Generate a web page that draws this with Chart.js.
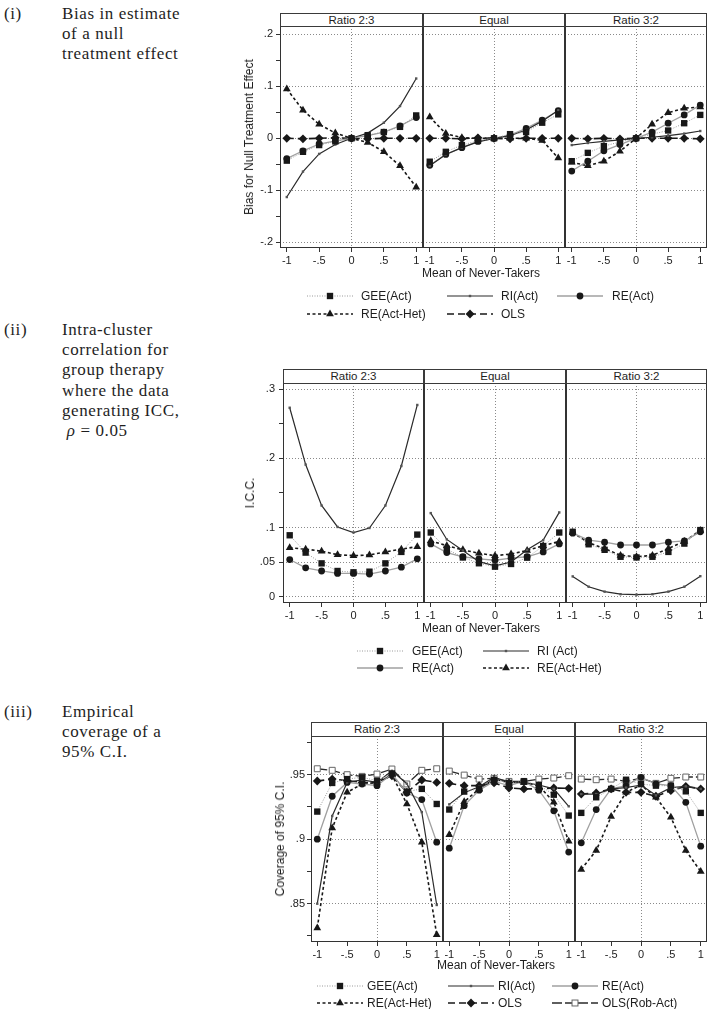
<!DOCTYPE html>
<html>
<head>
<meta charset="utf-8">
<script src="https://cdn.jsdelivr.net/npm/chart.js@4/dist/chart.umd.min.js"></script>
<style>
  body { margin: 0; background: #fff; width: 709px; height: 1009px; position: relative; overflow: hidden;
         font-family: 'Liberation Sans', Arial, sans-serif; color: #1e1e1e; }
  canvas { position: absolute; }
  .strip { position: absolute; box-sizing: border-box; border: 1px solid #3a3a3a; font-size: 11.5px;
           text-align: center; background: #fff; color: #1e1e1e; }
  .caption { position: absolute; font-family: 'Liberation Serif', serif; font-size: 17px; line-height: 20.2px;
             color: #1e1e1e; letter-spacing: 0.6px; white-space: nowrap; }
  .ytitle { position: absolute; font-size: 12px; white-space: nowrap; transform: translate(-50%, -50%) rotate(-90deg); }
  .xtitle { position: absolute; font-size: 12px; white-space: nowrap; transform: translate(-50%, -50%); }
  .legtext { position: absolute; font-size: 12px; white-space: nowrap; transform: translateY(-50%); }
  .legsample { position: absolute; transform: translateY(-50%); }
</style>
</head>
<body>
<div class="caption" style="left:4px;top:4px">(i)</div>
<div class="caption" style="left:62px;top:4px">Bias in estimate<br>of a null<br>treatment effect</div>
<div class="caption" style="left:4px;top:320px">(ii)</div>
<div class="caption" style="left:62px;top:320px">Intra-cluster<br>correlation for<br>group therapy<br>where the data<br>generating ICC,<br>&nbsp;<i>ρ</i> = 0.05</div>
<div class="caption" style="left:4px;top:702px">(iii)</div>
<div class="caption" style="left:62px;top:702px">Empirical<br>coverage of a<br>95% C.I.</div>
<script>
// x values: mean of never-takers
const neverTakerMeans = [-1, -0.75, -0.5, -0.25, 0, 0.25, 0.5, 0.75, 1];
const facetLabels = ['Ratio 2:3', 'Equal', 'Ratio 3:2'];
const xTickValues = [-1, -0.5, 0, 0.5, 1];

// (i) bias, one row per facet (2:3, equal, 3:2)
const biasGEE = [
  [-0.043, -0.026, -0.013, -0.006, 0, 0.006, 0.012, 0.022, 0.044],
  [-0.045, -0.026, -0.013, -0.005, 0, 0.008, 0.012, 0.030, 0.046],
  [-0.044, -0.028, -0.015, -0.007, 0, 0.008, 0.015, 0.029, 0.045]];
const biasRI = [
  [-0.113, -0.064, -0.030, -0.012, 0, 0.010, 0.030, 0.062, 0.115],
  [-0.053, -0.031, -0.018, -0.007, 0, 0.005, 0.016, 0.033, 0.054],
  [-0.013, -0.009, -0.006, -0.003, 0, 0.002, 0.005, 0.009, 0.014]];
const biasRE = [
  [-0.039, -0.024, -0.011, -0.005, 0, 0.005, 0.012, 0.024, 0.040],
  [-0.052, -0.031, -0.018, -0.006, 0, 0.006, 0.019, 0.035, 0.053],
  [-0.063, -0.044, -0.024, -0.012, 0, 0.012, 0.029, 0.045, 0.064]];
const biasHet = [
  [0.095, 0.054, 0.027, 0.010, 0, -0.008, -0.026, -0.053, -0.094],
  [0.041, 0.009, 0.001, 0.000, 0, 0.000, 0.000, -0.004, -0.038],
  [-0.046, -0.053, -0.044, -0.025, 0, 0.027, 0.049, 0.058, 0.060]];
const biasOLS = [
  [0.000, -0.001, 0.000, 0.001, 0, -0.001, 0.000, 0.000, 0.000],
  [0.000, 0.000, -0.001, 0.001, 0, -0.001, 0.000, 0.000, 0.000],
  [0.000, -0.001, 0.000, -0.001, 0, 0.000, 0.000, 0.000, -0.001]];
const biasYTicks = [-0.2, -0.15, -0.1, -0.05, 0, 0.05, 0.1, 0.15, 0.2];
const biasYLabels = [-0.2, -0.1, 0, 0.1, 0.2];

// (ii) intra-cluster correlation
const iccGEE = [
  [0.089, 0.064, 0.0485, 0.0375, 0.0356, 0.0365, 0.0485, 0.065, 0.090],
  [0.093, 0.069, 0.057, 0.0486, 0.0437, 0.0476, 0.0567, 0.0735, 0.093],
  [0.094, 0.076, 0.068, 0.058, 0.057, 0.058, 0.065, 0.077, 0.0965]];
const iccRI = [
  [0.273, 0.191, 0.132, 0.101, 0.093, 0.0995, 0.132, 0.189, 0.277],
  [0.121, 0.083, 0.067, 0.051, 0.045, 0.0505, 0.068, 0.082, 0.122],
  [0.0297, 0.0148, 0.0077, 0.004, 0.0034, 0.004, 0.0077, 0.0148, 0.030]];
const iccRE = [
  [0.054, 0.042, 0.0375, 0.034, 0.034, 0.033, 0.0375, 0.043, 0.055],
  [0.0765, 0.064, 0.058, 0.055, 0.053, 0.056, 0.058, 0.065, 0.0765],
  [0.092, 0.082, 0.079, 0.075, 0.075, 0.075, 0.079, 0.081, 0.094]];
const iccHet = [
  [0.071, 0.069, 0.066, 0.061, 0.0596, 0.0606, 0.065, 0.069, 0.0726],
  [0.081, 0.074, 0.068, 0.063, 0.0596, 0.062, 0.067, 0.074, 0.080],
  [0.093, 0.078, 0.070, 0.060, 0.058, 0.060, 0.070, 0.080, 0.096]];
const iccYTicks = [0, 0.05, 0.1, 0.15, 0.2, 0.25, 0.3];
const iccYLabels = [0, 0.05, 0.1, 0.2, 0.3];

// (iii) coverage of 95% C.I.
const covGEE = [
  [0.9214, 0.9436, 0.9466, 0.948, 0.9454, 0.951, 0.9369, 0.939, 0.9273],
  [0.923, 0.9369, 0.939, 0.9459, 0.9436, 0.9448, 0.942, 0.9345, 0.9183],
  [0.9204, 0.9325, 0.939, 0.9461, 0.9428, 0.9415, 0.9415, 0.9371, 0.9204]];
const covRI = [
  [0.850, 0.918, 0.944, 0.946, 0.944, 0.953, 0.943, 0.921, 0.849],
  [0.927, 0.936, 0.9407, 0.948, 0.944, 0.944, 0.942, 0.939, 0.9255],
  [0.935, 0.935, 0.939, 0.940, 0.942, 0.934, 0.940, 0.941, 0.939]];
const covRE = [
  [0.900, 0.9333, 0.944, 0.9428, 0.9415, 0.9505, 0.9358, 0.9307, 0.8977],
  [0.893, 0.926, 0.938, 0.9448, 0.9415, 0.9448, 0.938, 0.922, 0.890],
  [0.8972, 0.923, 0.939, 0.9415, 0.948, 0.9428, 0.9415, 0.9286, 0.8946]];
const covHet = [
  [0.8312, 0.9086, 0.9363, 0.9428, 0.944, 0.9497, 0.9273, 0.8977, 0.826],
  [0.9034, 0.929, 0.939, 0.9466, 0.944, 0.944, 0.9415, 0.9286, 0.8985],
  [0.8766, 0.8912, 0.9175, 0.9363, 0.942, 0.9325, 0.917, 0.8912, 0.875]];
const covOLS = [
  [0.9451, 0.9466, 0.9454, 0.944, 0.944, 0.9492, 0.9363, 0.9459, 0.944],
  [0.9433, 0.9415, 0.9415, 0.9436, 0.9397, 0.939, 0.939, 0.9397, 0.9394],
  [0.935, 0.9358, 0.939, 0.9363, 0.9363, 0.9333, 0.9376, 0.941, 0.939]];
const covRob = [
  [0.9546, 0.9534, 0.950, 0.9487, 0.9505, 0.9544, 0.9428, 0.9534, 0.9546],
  [0.9528, 0.9497, 0.9466, 0.9472, 0.9448, 0.9448, 0.9466, 0.9474, 0.9492],
  [0.9466, 0.9461, 0.9466, 0.9448, 0.9474, 0.9433, 0.9472, 0.9482, 0.9482]];
const covYTicks = [0.825, 0.85, 0.875, 0.9, 0.925, 0.95, 0.975];
const covYLabels = [0.85, 0.9, 0.95];

Chart.defaults.font.family = "'Liberation Sans', Arial, sans-serif";
Chart.defaults.font.size = 11;
Chart.defaults.color = '#222';

const fmt = v => {
  if (Math.abs(v) < 1e-9) return '0';
  return String(+v.toFixed(3)).replace(/^(-?)0\./, '$1.');
};
const near = (v, list) => list.some(t => Math.abs(t - v) < 1e-9);

const STYLE = {
  gee: { line: '#9a9a9a', width: 1, dash: [1, 1.5], point: 'rect', r: 4.5, fill: '#181818' },
  ri: { line: '#2a2a2a', width: 1.2, dash: [], point: 'rect', r: 1.7, fill: '#555' },
  re: { line: '#a0a0a0', width: 1.3, dash: [], point: 'circle', r: 3.4, fill: '#181818' },
  het: { line: '#181818', width: 1.6, dash: [3, 2.5], point: 'triangle', r: 4.5, fill: '#181818' },
  ols: { line: '#181818', width: 1.6, dash: [7, 4], point: 'rectRot', r: 4.4, fill: '#181818' },
  rob: { line: '#2a2a2a', width: 1.3, dash: [10, 3], point: 'rect', r: 4.2, fill: '#fff', border: '#666', bw: 1 }
};

const panels = [
  { stripTop: 13, plotTop: 26, plotBottom: 248, frames: [280, 423, 565, 707], yPad: 3,
    yMin: -0.211, yMax: 0.216, yTicks: biasYTicks, yLabels: biasYLabels,
    yTitle: 'Bias for Null Treatment Effect', yTitleX: 249, xTitleX: 481, xTitleY: 273,
    series: [['gee', biasGEE], ['ri', biasRI], ['re', biasRE], ['het', biasHet], ['ols', biasOLS]],
    rows: [296, 313.5],
    legend: [['gee', 'GEE(Act)', 307, 361, 0], ['ri', 'RI(Act)', 447, 501, 0], ['re', 'RE(Act)', 557, 612, 0],
             ['het', 'RE(Act-Het)', 307, 361, 1], ['ols', 'OLS', 447, 501, 1]] },
  { stripTop: 369, plotTop: 383, plotBottom: 603, frames: [283, 424, 566, 707], yPad: 4,
    yMin: -0.0087, yMax: 0.3087, yTicks: iccYTicks, yLabels: iccYLabels,
    yTitle: 'I.C.C.', yTitleX: 250, xTitleX: 481, xTitleY: 628,
    series: [['gee', iccGEE], ['ri', iccRI], ['re', iccRE], ['het', iccHet]],
    rows: [651, 668],
    legend: [['gee', 'GEE(Act)', 357, 412, 0], ['ri', 'RI (Act)', 483, 537, 0],
             ['re', 'RE(Act)', 357, 412, 1], ['het', 'RE(Act-Het)', 483, 537, 1]] },
  { stripTop: 722, plotTop: 736, plotBottom: 942, frames: [311, 443, 575, 707], yPad: 2,
    yMin: 0.8203, yMax: 0.980, yTicks: covYTicks, yLabels: covYLabels,
    yTitle: 'Coverage of 95% C.I.', yTitleX: 280, xTitleX: 496, xTitleY: 965,
    series: [['gee', covGEE], ['ri', covRI], ['re', covRE], ['het', covHet], ['ols', covOLS], ['rob', covRob]],
    rows: [986, 1002.5],
    legend: [['gee', 'GEE(Act)', 317, 367, 0], ['ri', 'RI(Act)', 448, 498, 0], ['re', 'RE(Act)', 552, 602, 0],
             ['het', 'RE(Act-Het)', 317, 367, 1], ['ols', 'OLS', 448, 498, 1], ['rob', 'OLS(Rob-Act)', 552, 602, 1]] }
];

const framePlugin = {
  id: 'frame',
  afterDraw(chart) {
    const { ctx, chartArea: a } = chart;
    ctx.save();
    ctx.strokeStyle = '#333';
    ctx.lineWidth = 1;
    ctx.strokeRect(a.left + 0.5, a.top + 0.5, a.right - a.left - 1, a.bottom - a.top - 1);
    ctx.restore();
  }
};

function addDiv(cls, html, style) {
  const d = document.createElement('div');
  d.className = cls;
  d.innerHTML = html;
  Object.assign(d.style, style);
  document.body.appendChild(d);
  return d;
}

function drawFacet(p, f) {
  const first = f === 0;
  const frameX = p.frames[f];
  const facetW = p.frames[f + 1] - frameX;
  const yAxisW = first ? 32 : 0;
  const xAxisH = 22;
  const plotH = p.plotBottom - p.plotTop;

  const c = document.createElement('canvas');
  c.width = yAxisW + facetW;
  c.height = plotH + xAxisH;
  c.style.left = (frameX - yAxisW) + 'px';
  c.style.top = p.plotTop + 'px';
  document.body.appendChild(c);

  const datasets = p.series.map(([key, values]) => {
    const st = STYLE[key];
    return {
      data: neverTakerMeans.map((x, i) => ({ x: x, y: values[f][i] })),
      borderColor: st.line, borderWidth: st.width, borderDash: st.dash,
      pointStyle: st.point, pointRadius: st.r,
      pointBackgroundColor: st.fill, pointBorderColor: st.border || st.fill,
      pointBorderWidth: st.bw || 0, tension: 0, fill: false
    };
  });

  const zeroPad = s => { s.paddingLeft = 0; s.paddingRight = 0; s.paddingTop = 0; s.paddingBottom = 0; };

  new Chart(c, {
    type: 'line',
    data: { datasets: datasets },
    plugins: [framePlugin],
    options: {
      responsive: false, animation: false, events: [],
      layout: { padding: 0, autoPadding: false },
      plugins: { legend: { display: false }, tooltip: { enabled: false } },
      scales: {
        x: {
          type: 'linear', min: -1.105, max: 1.105,
          afterBuildTicks: s => { s.ticks = xTickValues.map(v => ({ value: v })); },
          afterFit: s => { s.height = xAxisH; zeroPad(s); },
          ticks: { callback: v => fmt(v), padding: 2, maxRotation: 0, autoSkip: false, color: '#222' },
          grid: { color: ctx => (ctx.tick && Math.abs(ctx.tick.value) < 1e-9) ? '#8a8a8a' : 'transparent',
                  lineWidth: 1, tickLength: 4, tickColor: '#333', tickWidth: 1 },
          border: { display: false, dash: [1, 2] }
        },
        y: {
          type: 'linear', min: p.yMin, max: p.yMax,
          afterBuildTicks: s => { s.ticks = p.yTicks.map(v => ({ value: v })); },
          afterFit: s => { s.width = yAxisW; zeroPad(s); },
          ticks: { display: first, callback: v => near(v, p.yLabels) ? fmt(v) : '', padding: p.yPad,
                   autoSkip: false, color: '#222' },
          grid: { color: ctx => (ctx.tick && near(ctx.tick.value, p.yLabels)) ? '#8a8a8a' : 'transparent',
                  lineWidth: 1, drawTicks: first, tickLength: 4, tickColor: '#333', tickWidth: 1 },
          border: { display: false, dash: [1, 2] }
        }
      }
    }
  });

  addDiv('strip', facetLabels[f], {
    left: frameX + 'px', top: p.stripTop + 'px', width: facetW + 'px',
    height: (p.plotTop - p.stripTop + 1) + 'px', lineHeight: (p.plotTop - p.stripTop - 1) + 'px'
  });
}

function sampleSvg(key) {
  const st = STYLE[key];
  const w = 46, h = 10, cx = 23, cy = 5;
  let m = '';
  const fill = st.fill, stroke = st.border || st.fill, sw = st.bw || 0;
  if (st.point === 'rect') {
    const s = st.r * Math.SQRT1_2;
    m = `<rect x="${cx - s}" y="${cy - s}" width="${2 * s}" height="${2 * s}" fill="${fill}" stroke="${stroke}" stroke-width="${sw}"/>`;
  } else if (st.point === 'circle') {
    m = `<circle cx="${cx}" cy="${cy}" r="${st.r}" fill="${fill}"/>`;
  } else if (st.point === 'triangle') {
    const r = st.r;
    m = `<polygon points="${cx},${cy - r} ${cx + r * 0.866},${cy + r / 2} ${cx - r * 0.866},${cy + r / 2}" fill="${fill}"/>`;
  } else if (st.point === 'rectRot') {
    const r = st.r;
    m = `<polygon points="${cx - r},${cy} ${cx},${cy - r} ${cx + r},${cy} ${cx},${cy + r}" fill="${fill}"/>`;
  }
  return `<svg width="${w}" height="${h}" style="display:block"><line x1="0" y1="${cy}" x2="${w}" y2="${cy}" stroke="${st.line}" stroke-width="${st.width}" stroke-dasharray="${st.dash.join(' ')}"/>${m}</svg>`;
}

panels.forEach(p => {
  for (let f = 0; f < 3; f++) drawFacet(p, f);
  addDiv('ytitle', p.yTitle, { left: p.yTitleX + 'px', top: ((p.plotTop + p.plotBottom) / 2) + 'px' });
  addDiv('xtitle', 'Mean of Never-Takers', { left: p.xTitleX + 'px', top: p.xTitleY + 'px' });
  p.legend.forEach(([key, label, sx, tx, row]) => {
    addDiv('legsample', sampleSvg(key), { left: sx + 'px', top: p.rows[row] + 'px' });
    addDiv('legtext', label, { left: tx + 'px', top: p.rows[row] + 'px' });
  });
});
</script>
</body>
</html>
